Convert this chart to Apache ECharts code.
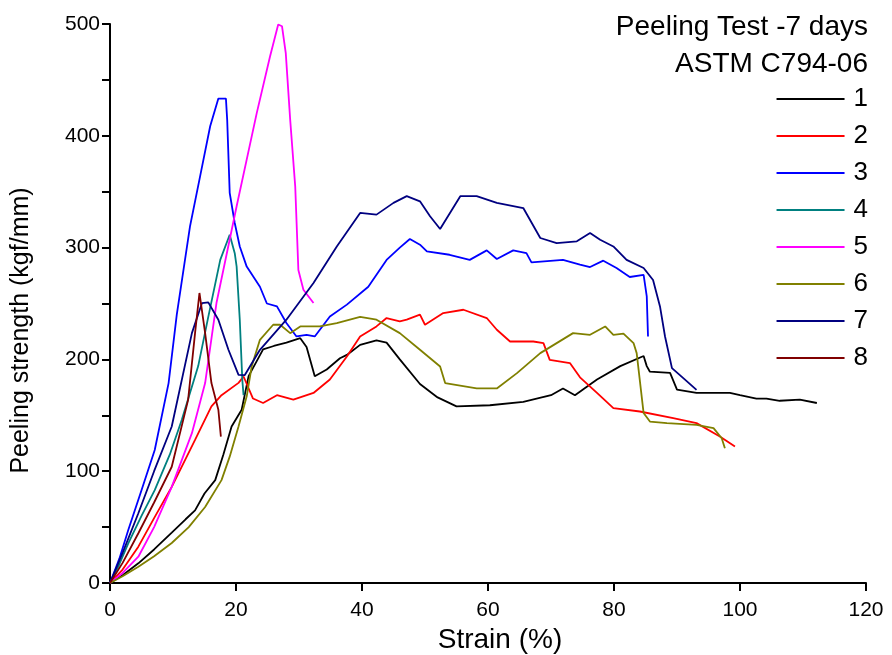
<!DOCTYPE html>
<html>
<head>
<meta charset="utf-8">
<script src="https://cdn.jsdelivr.net/npm/echarts@6/dist/echarts.min.js"></script>
<style>html,body{margin:0;padding:0;background:#fff}#c{width:892px;height:655px}</style>
</head>
<body>
<div id="c"></div>
<script>
var seriesNames = ['1','2','3','4','5','6','7','8'];
var seriesColors = ['#000000','#ff0000','#0000ff','#008080','#ff00ff','#808000','#000080','#800000'];
var titleLines = ['Peeling Test -7 days','ASTM C794-06'];
var xTicks = [0,20,40,60,80,100,120];
var yTicks = [0,100,200,300,400,500];

var s1 = [[0,0],[2,7],[4.5,17.6],[7,30],[9.8,45],[12,57],[13.5,65],[15,80],[16.7,92],[18,115],[19.3,140],[20.9,155],[22,185],[24.3,209],[26,212],[28,215],[30.2,219],[31.2,211],[32.5,185],[34.4,191],[36.5,201],[37.6,204],[39.7,213],[42.3,217],[43.9,215],[46,200],[49.2,178],[52,166],[55,158],[60.3,159],[65.6,162],[70,168],[71.9,174],[73.8,168],[77.3,182],[81,194],[84.7,203],[85.2,194],[85.7,189],[88.9,188],[90,173],[93.1,170],[98.4,170],[100,168],[102.6,165],[104.2,165],[106.3,163],[109.5,164],[112.2,161]];
var s2 = [[0,0],[2,12],[4.5,32.5],[7,58],[9.8,86],[13.5,128],[16.1,158],[17.7,168],[20.4,179],[21.2,184.7],[22.7,165],[24.3,161],[26.5,168],[29.1,164],[32.3,170],[34.9,182],[37.6,202.6],[39.7,220.5],[42.3,229.5],[43.9,237],[46,234],[47.1,235.5],[49.2,240],[50,231],[52.9,241.4],[56.1,244.4],[59.8,237],[61.4,226.5],[63.5,216],[67.2,216],[68.8,214.6],[69.8,199.6],[73,196.7],[74.6,184],[77.3,170],[79.9,156.4],[84.1,153.4],[89.4,147.4],[93.1,143],[96.8,131],[99.2,122]];
var s3 = [[0,0],[1.5,22],[2.9,47.4],[5,83],[7.1,119],[9.3,178.8],[10.6,240],[12.7,319],[14.3,363.7],[15.9,408.5],[17.2,433.3],[18.4,433.3],[18.6,414.5],[19,349],[19.8,322],[20.6,301],[21.7,283],[23.8,265],[24.9,250],[26.5,247.4],[28,232.5],[29.6,220.5],[31.2,222],[32.5,220.5],[34.9,238.4],[37.6,249],[41,265],[43.9,289],[46,300],[47.6,307.7],[49.2,302.6],[50.3,296.6],[53.9,293.6],[57.1,289],[59.8,297.5],[61.4,289.8],[64,297.5],[66.1,295],[66.9,286.8],[71.9,289],[74.6,284.7],[76.2,282.6],[78.3,288.3],[80.4,281.7],[82.5,273.7],[84.7,275.7],[85.2,256.3],[85.4,220.5]];
var s4 = [[0,0],[1.5,17],[2.9,35.5],[5,60],[7.1,83],[9.5,115],[11.4,146],[14,194],[15.6,238],[17.5,289],[19,311.5],[19.8,295],[20.1,283],[20.6,235.5],[21,181.7],[21.2,168]];
var s5 = [[0,0],[2,9],[4.5,23.5],[7,50],[9.8,86],[13,134],[15.1,178.8],[16.9,250.4],[20.1,337],[23.3,420.5],[25.4,471],[26.7,499.6],[27.3,498],[27.9,474],[28.6,414.5],[29.4,354.8],[29.9,280],[30.7,262.3],[32.3,250.4]];
var s6 = [[0,0],[2,6],[4.5,14.6],[7,24],[9.8,35.8],[12.5,50],[15.1,68],[17.7,92],[19,113],[20.4,140],[21.7,167],[22.5,194],[23.8,217.5],[25.9,231],[27,231],[28.6,223.5],[30.2,229.5],[33.3,229.5],[36,232.5],[39.7,238],[42.3,235.5],[46,223.5],[49.2,208.6],[52.4,193.6],[53.2,178.8],[58.2,174],[61.4,174],[64.6,187.7],[68.3,205.6],[73.5,223.5],[76.2,222],[78.6,229.5],[79.9,222],[81.5,223],[83.1,214.6],[83.6,205.6],[84.7,152],[85.7,144.4],[88.4,143],[93.1,141.5],[95.8,138.5],[97.1,129.5],[97.6,120.6]];
var s7 = [[0,0],[2,27],[4.5,62.4],[7,100],[9.8,140],[13,223.5],[14.6,250.4],[15.6,251],[17.2,235.5],[18.8,208.6],[20.4,186.2],[21.4,186],[23.8,208.6],[28,235.5],[32.3,268.3],[36,301],[39.7,331],[42.3,329.5],[45,340],[47.1,346],[49.2,341.4],[50.8,328],[52.4,316.6],[55.6,346],[58.2,346],[61.4,340],[65.6,335.4],[68.3,308.6],[70.9,304],[74.1,305.6],[76.2,313],[77.8,307],[79.9,301],[82,289],[84.7,281.7],[86.2,271],[87.3,247.4],[88.1,220.5],[89.2,192.2],[91,183.3],[93.1,172.8]];
var s8 = [[0,0],[2,18],[4.5,44.5],[7,72],[9.8,104],[12.4,163.8],[13.5,223.5],[14.2,259.4],[15.1,223.5],[16.1,178.8],[17.2,155],[17.6,131]];
var allData = [s1,s2,s3,s4,s5,s6,s7,s8];

var chart = echarts.init(document.getElementById('c'));
var font = 'Arial, "Liberation Sans", sans-serif';
chart.setOption({
  backgroundColor: '#ffffff',
  animation: false,
  title: titleLines.map(function (t, i) {
    return {
      text: t, right: 24, top: 13 + i * 37,
      padding: 0,
      textStyle: {fontFamily: font, fontSize: 28, fontWeight: 'normal', color: '#000'}
    };
  }),
  legend: {
    orient: 'vertical',
    right: 24, top: 86,
    padding: 0,
    icon: 'rect',
    itemWidth: 68, itemHeight: 2,
    itemGap: 11,
    textStyle: {fontFamily: font, fontSize: 26, color: '#000', lineHeight: 26, padding: [0,0,0,4]},
    data: seriesNames
  },
  grid: {left: 110, right: 26, top: 24, bottom: 72, containLabel: false, outerBoundsMode: 'none'},
  xAxis: {
    type: 'value', min: 0, max: 120, interval: 20,
    name: 'Strain (%)', nameLocation: 'middle', nameGap: 35,
    nameTextStyle: {fontFamily: font, fontSize: 28, color: '#000', padding: [0,0,0,24]},
    axisLine: {lineStyle: {color: '#000', width: 2}},
    axisTick: {inside: false, length: 8, lineStyle: {color: '#000', width: 2}},
    axisLabel: {fontFamily: font, fontSize: 21, color: '#000', margin: 17},
    splitLine: {show: false}
  },
  yAxis: {
    type: 'value', min: 0, max: 500, interval: 100,
    name: 'Peeling strength (kgf/mm)', nameLocation: 'middle', nameGap: 76,
    nameTextStyle: {fontFamily: font, fontSize: 25, color: '#000', padding: [0,54,0,0]},
    axisLine: {show: true, lineStyle: {color: '#000', width: 2}},
    axisTick: {show: true, inside: false, length: 8, lineStyle: {color: '#000', width: 2}},
    minorTick: {show: true, splitNumber: 2, length: 8, lineStyle: {color: '#000', width: 2}},
    axisLabel: {fontFamily: font, fontSize: 21, color: '#000', margin: 10},
    splitLine: {show: false}
  },
  series: seriesNames.map(function (n, i) {
    return {
      name: n, type: 'line', data: allData[i],
      showSymbol: false, symbol: 'none',
      lineStyle: {color: seriesColors[i], width: 1.8},
      itemStyle: {color: seriesColors[i]},
      z: 2
    };
  })
});
</script>
</body>
</html>
